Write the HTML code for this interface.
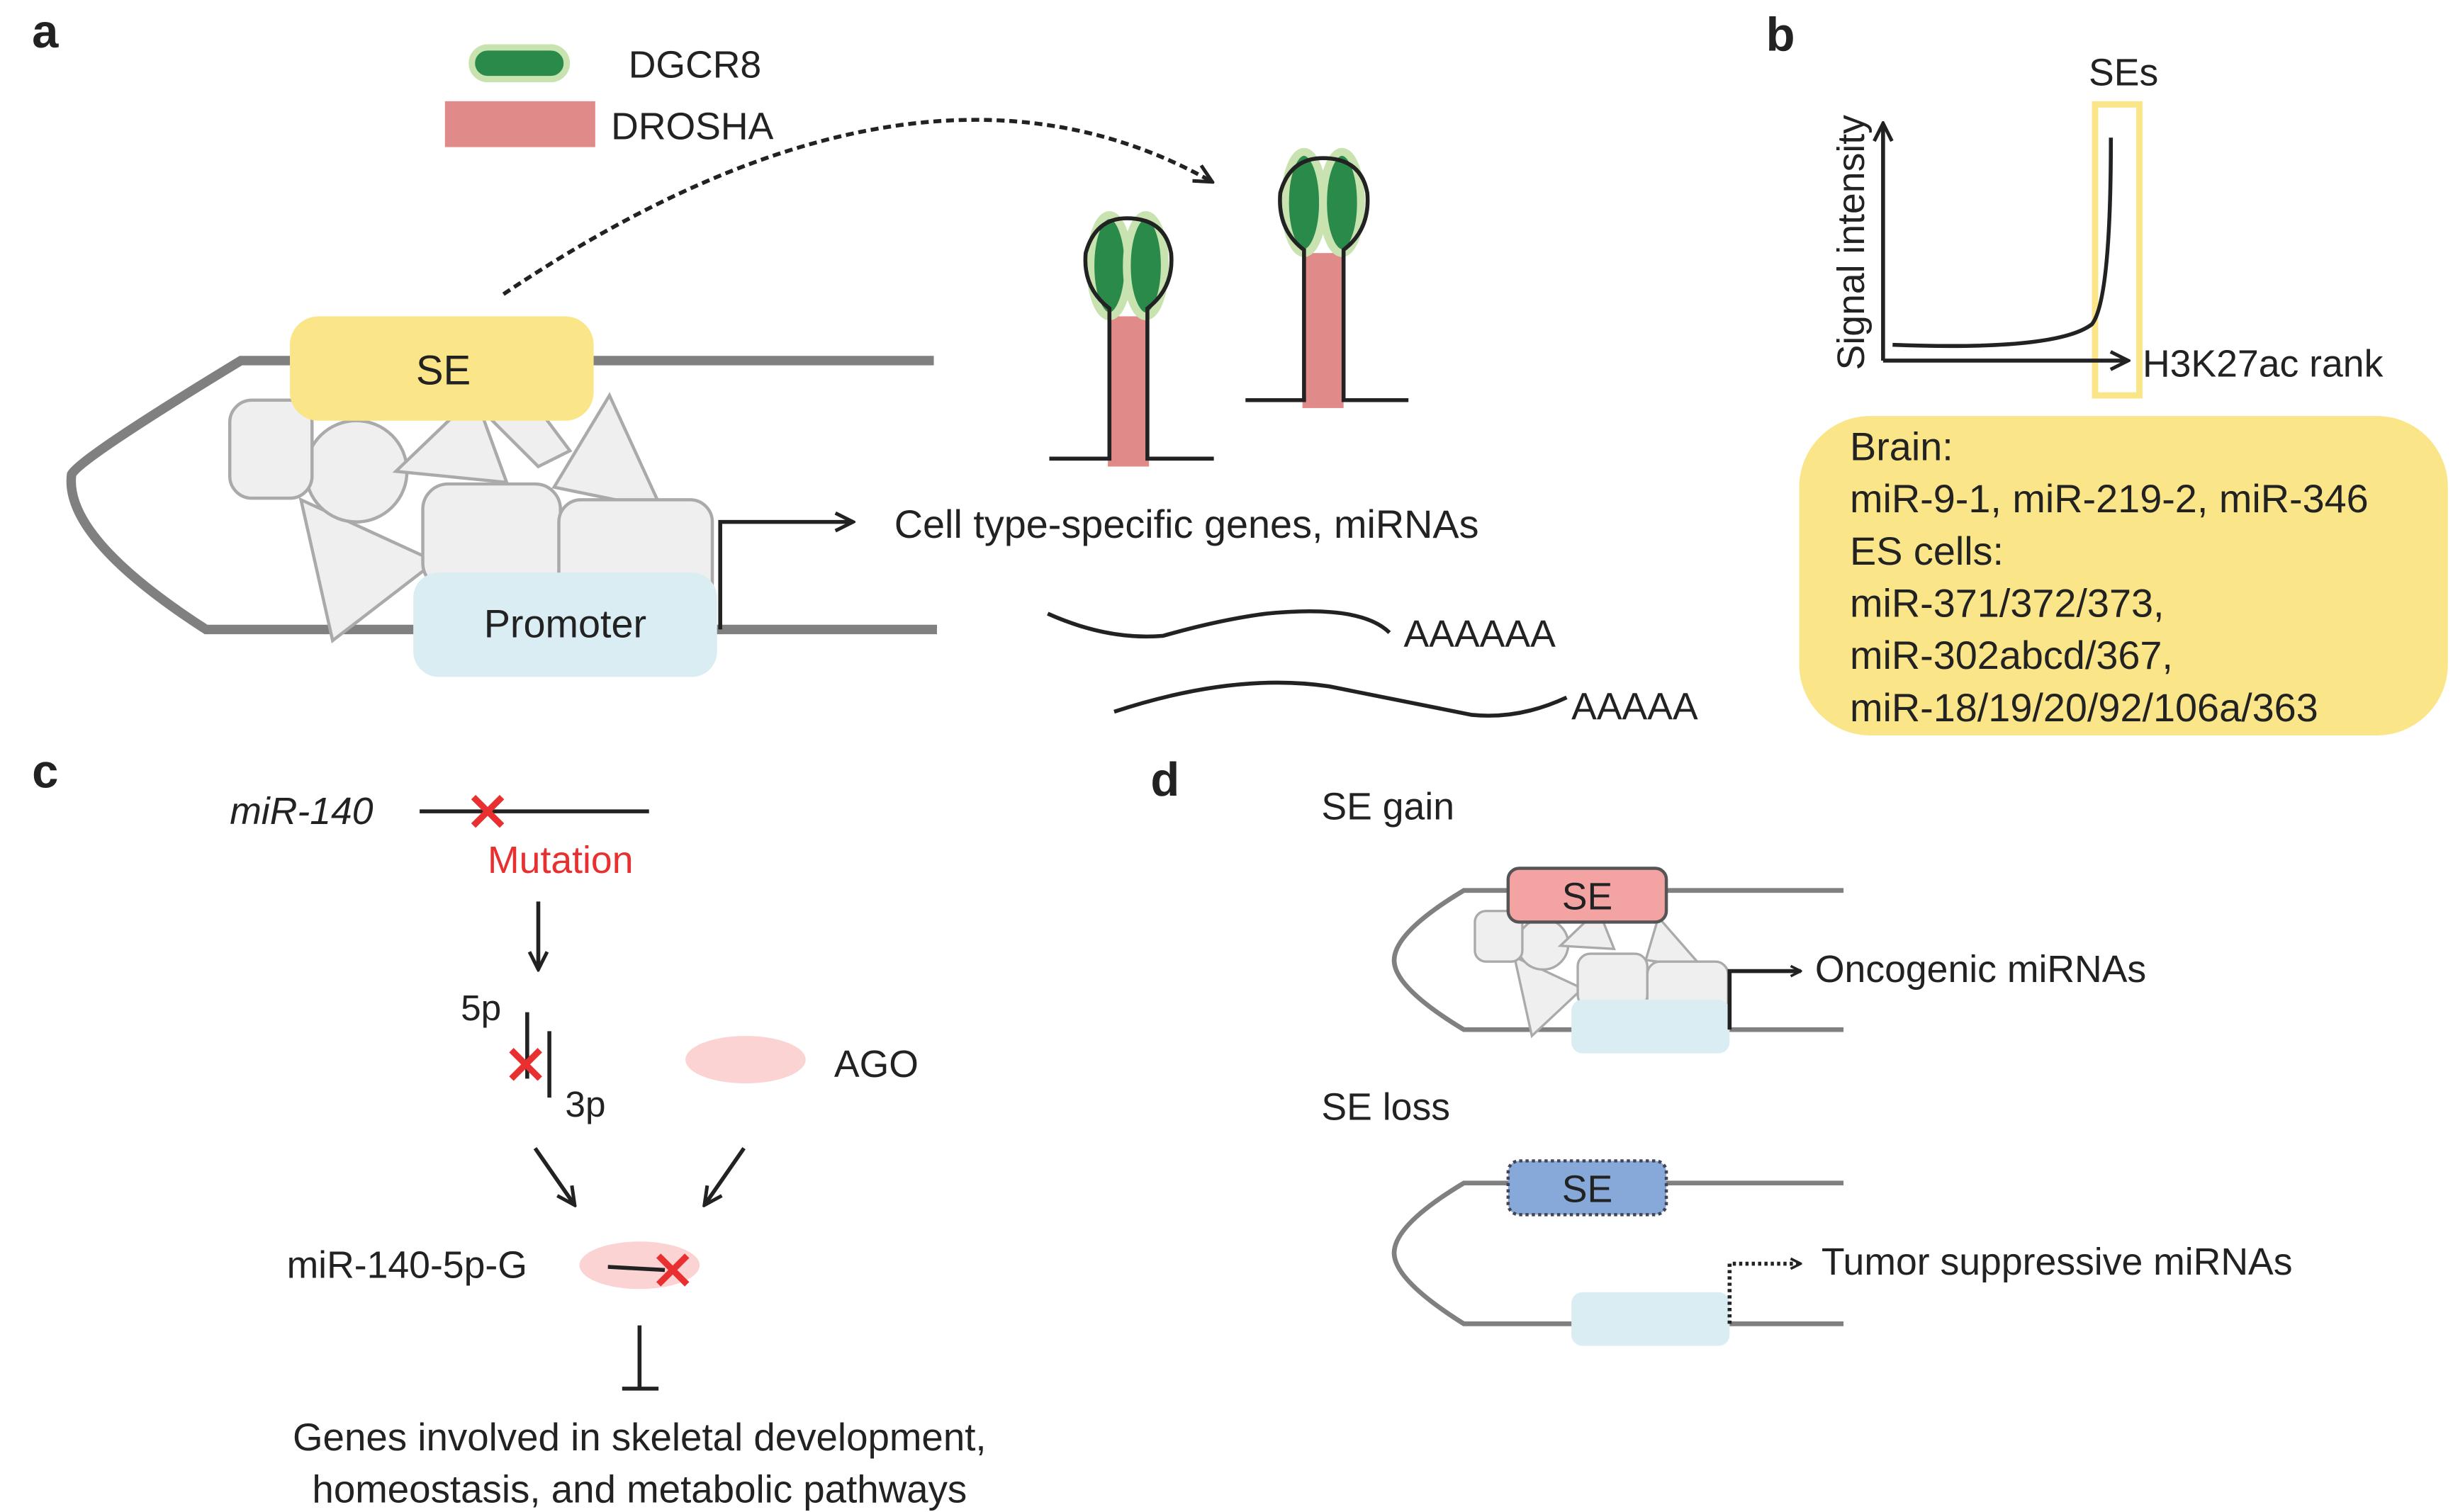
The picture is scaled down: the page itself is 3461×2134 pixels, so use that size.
<!DOCTYPE html>
<html><head><meta charset="utf-8"><style>html,body{margin:0;padding:0;background:#fff}svg{display:block}text{font-family:"Liberation Sans",Arial,sans-serif;fill:#222}</style></head>
<body>
<svg width="3461" height="2134" viewBox="0 0 1550 956" xmlns="http://www.w3.org/2000/svg">
<defs>
<marker id="ar" viewBox="0 0 10 10" refX="9" refY="5" markerWidth="8" markerHeight="8" markerUnits="userSpaceOnUse" orient="auto"><path d="M1,1 L9,5 L1,9" fill="none" stroke="#222" stroke-width="2"/></marker>
<marker id="arB" viewBox="0 0 10 10" refX="9" refY="5" markerWidth="14" markerHeight="14" markerUnits="userSpaceOnUse" orient="auto"><path d="M1,1 L9,5 L1,9" fill="none" stroke="#222" stroke-width="1.6"/></marker>
</defs>
<!-- Panel a -->
<text x="20" y="30" font-size="30" font-weight="bold">a</text>
<rect x="298" y="30" width="60" height="20" rx="10" fill="#2a8a4a" stroke="#c8e3b0" stroke-width="4"/>
<text x="397" y="49" font-size="24">DGCR8</text>
<rect x="281" y="64" width="95" height="29" fill="#e08a8a"/>
<text x="386" y="88" font-size="24">DROSHA</text>
<path d="M318,186 Q580,10 766,115" fill="none" stroke="#222" stroke-width="2.5" stroke-dasharray="5,3" marker-end="url(#arB)"/>
<path d="M590,228 L152,228 Q50,290 45,300 Q40,340 130,398 L592,398" fill="none" stroke="#808080" stroke-width="6"/>
<g fill="#efefef" stroke="#aaa" stroke-width="2">
<path d="M190,316 L275,355 L210,405 Z"/>
<circle cx="225" cy="298" r="32"/>
<path d="M250,298 L300,250 L320,305 Z"/>
<path d="M300,255 L340,295 L360,285 L330,245 Z"/>
<path d="M385,250 L418,322 L350,308 Z"/>
<rect x="145" y="253" width="52" height="62" rx="14"/>
<rect x="267" y="306" width="87" height="66" rx="16"/>
<rect x="353" y="316" width="97" height="66" rx="14"/>
</g>
<rect x="183" y="200" width="192" height="66" rx="18" fill="#fae588"/>
<text x="280" y="243" font-size="26" text-anchor="middle">SE</text>
<rect x="261" y="362" width="192" height="66" rx="16" fill="#d9edf3"/>
<text x="357" y="403" font-size="25" text-anchor="middle">Promoter</text>
<path d="M455,398 L455,330 L539,330" fill="none" stroke="#222" stroke-width="2.5" marker-end="url(#arB)"/>
<text x="565" y="340" font-size="25">Cell type-specific genes, miRNAs</text>
<!-- hairpin 1 -->
<rect x="700" y="200" width="26" height="95" fill="#e08a8a"/>
<ellipse cx="701" cy="168" rx="12" ry="32" fill="#2a8a4a" stroke="#c8e3b0" stroke-width="5"/>
<ellipse cx="724" cy="168" rx="12" ry="32" fill="#2a8a4a" stroke="#c8e3b0" stroke-width="5"/>
<path d="M663,290 L701,290 L701,195 Q684,182 686,160 Q692,138 712,138 Q736,138 740,160 Q742,182 725,195 L725,290 L767,290" fill="none" stroke="#222" stroke-width="2.5"/>
<!-- hairpin 2 -->
<rect x="823" y="160" width="26" height="98" fill="#e08a8a"/>
<ellipse cx="824" cy="128" rx="12" ry="32" fill="#2a8a4a" stroke="#c8e3b0" stroke-width="5"/>
<ellipse cx="848" cy="128" rx="12" ry="32" fill="#2a8a4a" stroke="#c8e3b0" stroke-width="5"/>
<path d="M787,253 L824,253 L824,158 Q807,145 809,122 Q815,100 836,100 Q860,100 864,122 Q866,145 849,158 L849,253 L890,253" fill="none" stroke="#222" stroke-width="2.5"/>
<path d="M662,388 Q700,405 735,402 Q770,392 800,388 Q860,382 878,400" fill="none" stroke="#222" stroke-width="2.5"/>
<text x="887" y="409" font-size="24">AAAAAA</text>
<path d="M704,450 Q780,425 840,434 Q900,446 930,452 Q960,455 990,441" fill="none" stroke="#222" stroke-width="2.5"/>
<text x="993" y="455" font-size="24">AAAAA</text>
<!-- Panel b -->
<text x="1116" y="32" font-size="30" font-weight="bold">b</text>
<rect x="1324" y="66" width="28" height="184" fill="none" stroke="#fae588" stroke-width="4"/>
<path d="M1190,228 L1190,78" fill="none" stroke="#222" stroke-width="2.5" marker-end="url(#arB)"/>
<path d="M1190,228 L1345,228" fill="none" stroke="#222" stroke-width="2.5" marker-end="url(#arB)"/>
<path d="M1196,218 Q1300,222 1322,205 Q1334,190 1334,87" fill="none" stroke="#222" stroke-width="2.5"/>
<text transform="translate(1178,234) rotate(-90)" font-size="24">Signal intensity</text>
<text x="1320" y="54" font-size="24">SEs</text>
<text x="1354" y="238" font-size="24">H3K27ac rank</text>
<rect x="1137" y="263" width="410" height="202" rx="45" fill="#fae588"/>
<g font-size="25">
<text x="1169" y="291">Brain:</text>
<text x="1169" y="324">miR-9-1, miR-219-2, miR-346</text>
<text x="1169" y="357">ES cells:</text>
<text x="1169" y="390">miR-371/372/373,</text>
<text x="1169" y="423">miR-302abcd/367,</text>
<text x="1169" y="456">miR-18/19/20/92/106a/363</text>
</g>
<!-- Panel c -->
<text x="20" y="498" font-size="30" font-weight="bold">c</text>
<text x="145" y="521" font-size="24" font-style="italic">miR-140</text>
<line x1="265" y1="513" x2="410" y2="513" stroke="#222" stroke-width="2.5"/>
<g stroke="#e83030" stroke-width="4"><line x1="299" y1="504" x2="317" y2="522"/><line x1="317" y1="504" x2="299" y2="522"/></g>
<text x="308" y="552" font-size="24" style="fill:#e83030">Mutation</text>
<path d="M340,570 L340,613" stroke="#222" stroke-width="2.5" marker-end="url(#arB)"/>
<text x="291" y="645" font-size="23">5p</text>
<line x1="333" y1="640" x2="333" y2="682" stroke="#222" stroke-width="2.5"/>
<line x1="347" y1="652" x2="347" y2="694" stroke="#222" stroke-width="2.5"/>
<g stroke="#e83030" stroke-width="4"><line x1="323" y1="664" x2="341" y2="682"/><line x1="341" y1="664" x2="323" y2="682"/></g>
<text x="357" y="706" font-size="23">3p</text>
<ellipse cx="471" cy="670" rx="38" ry="15" fill="#fcd3d3"/>
<text x="527" y="681" font-size="24">AGO</text>
<path d="M338,726 L363,762" stroke="#222" stroke-width="2.5" marker-end="url(#arB)"/>
<path d="M470,726 L445,762" stroke="#222" stroke-width="2.5" marker-end="url(#arB)"/>
<text x="181" y="808" font-size="24">miR-140-5p-G</text>
<ellipse cx="404" cy="800" rx="38" ry="15" fill="#fcd3d3"/>
<line x1="384" y1="801" x2="420" y2="803" stroke="#222" stroke-width="2.5"/>
<g stroke="#e83030" stroke-width="4"><line x1="416" y1="794" x2="434" y2="812"/><line x1="434" y1="794" x2="416" y2="812"/></g>
<line x1="404" y1="838" x2="404" y2="878" stroke="#222" stroke-width="2.5"/>
<line x1="393" y1="878" x2="416" y2="878" stroke="#222" stroke-width="2.5"/>
<text x="404" y="917" font-size="24.5" text-anchor="middle">Genes involved in skeletal development,</text>
<text x="404" y="950" font-size="24.5" text-anchor="middle">homeostasis, and metabolic pathways</text>
<!-- Panel d -->
<text x="727" y="503" font-size="30" font-weight="bold">d</text>
<text x="835" y="518" font-size="24">SE gain</text>
<path d="M1165,563 L925,563 Q880,590 881,608 Q882,625 925,651 L1165,651" fill="none" stroke="#808080" stroke-width="3"/>
<g fill="#efefef" stroke="#aaa" stroke-width="1.5">
<path d="M957,605 L1000,625 L968,655 Z"/>
<circle cx="975" cy="597" r="16"/>
<path d="M986,598 L1010,575 L1020,600 Z"/>
<path d="M1048,580 L1076,612 L1040,607 Z"/>
<rect x="932" y="576" width="30" height="32" rx="7"/>
<rect x="997" y="603" width="44" height="34" rx="8"/>
<rect x="1041" y="608" width="51" height="34" rx="8"/>
</g>
<rect x="953" y="549" width="100" height="34" rx="7" fill="#f4a3a3" stroke="#555" stroke-width="2"/>
<text x="1003" y="575" font-size="24" text-anchor="middle">SE</text>
<rect x="993" y="632" width="100" height="34" rx="7" fill="#d9edf3"/>
<path d="M1093,651 L1093,614 L1138,614" fill="none" stroke="#222" stroke-width="2.5" marker-end="url(#ar)"/>
<text x="1147" y="621" font-size="24">Oncogenic miRNAs</text>
<text x="835" y="708" font-size="24">SE loss</text>
<path d="M1165,748 L925,748 Q880,775 881,793 Q882,810 925,837 L1165,837" fill="none" stroke="#808080" stroke-width="3"/>
<rect x="953" y="734" width="100" height="34" rx="7" fill="#86a9da" stroke="#445" stroke-width="2" stroke-dasharray="2,2"/>
<text x="1003" y="760" font-size="24" text-anchor="middle">SE</text>
<rect x="993" y="817" width="100" height="34" rx="7" fill="#d9edf3"/>
<path d="M1093,837 L1093,799 L1138,799" fill="none" stroke="#222" stroke-width="2.5" stroke-dasharray="2,2" marker-end="url(#ar)"/>
<text x="1151" y="806" font-size="24">Tumor suppressive miRNAs</text>
</svg>
</body></html>
